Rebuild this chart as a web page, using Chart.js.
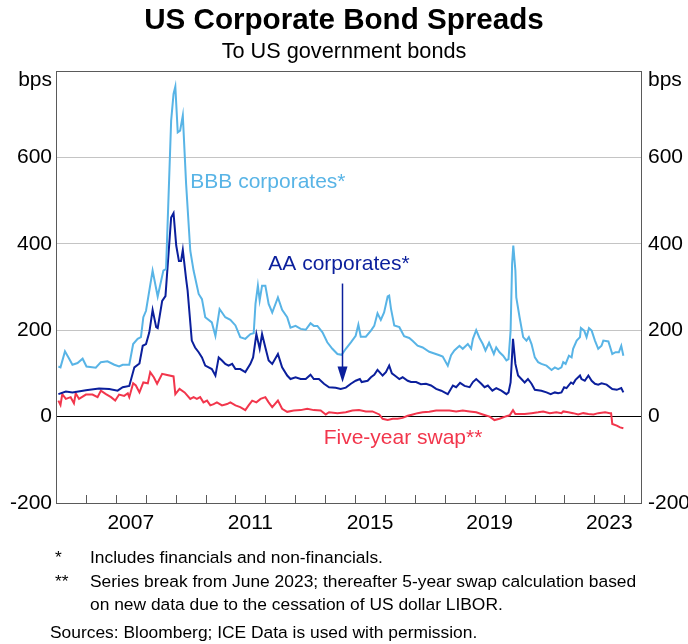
<!DOCTYPE html>
<html>
<head>
<meta charset="utf-8">
<script src="https://cdn.jsdelivr.net/npm/chart.js@4.4.1/dist/chart.umd.min.js"></script>
<style>
  body { margin: 0; background: #fff; font-family: "Liberation Sans", Arial, sans-serif; }
  #wrap { position: relative; width: 688px; height: 644px; }
  #bondChart { position: absolute; left: 0; top: 0; }
  .txt { position: absolute; white-space: nowrap; color: #000; line-height: 1; }
  .note { font-size: 17.4px; }
</style>
</head>
<body>
<div id="wrap">
  <canvas id="bondChart" width="688" height="644"></canvas>
  <div class="txt" style="left:0;width:688px;text-align:center;top:4px;font-size:29.6px;font-weight:bold">US Corporate Bond Spreads</div>
  <div class="txt" style="left:0;width:688px;text-align:center;top:40px;font-size:21.7px">To US government bonds</div>
  <div class="txt note" style="left:55px;top:549px">*</div>
  <div class="txt note" style="left:90px;top:549px">Includes financials and non-financials.</div>
  <div class="txt note" style="left:55px;top:573px">**</div>
  <div class="txt note" style="left:90px;top:573px">Series break from June 2023; thereafter 5-year swap calculation based</div>
  <div class="txt note" style="left:90px;top:596px">on new data due to the cessation of US dollar LIBOR.</div>
  <div class="txt note" style="left:50px;top:624px">Sources: Bloomberg; ICE Data is used with permission.</div>
</div>
<script>
// spreads to US government bonds, bps (dates as decimal years)
var bbbDates = [2005.08,2005.15,2005.30,2005.44,2005.55,2005.72,2005.89,2006.02,2006.33,2006.50,2006.72,2006.95,
  2007.11,2007.23,2007.45,2007.58,2007.73,2007.84,2007.92,2008.01,2008.23,2008.40,2008.59,2008.68,2008.85,2008.93,
  2008.99,2009.07,2009.15,2009.24,2009.35,2009.49,2009.60,2009.77,2009.88,2009.99,2010.21,2010.33,2010.47,2010.55,
  2010.66,2010.83,2011.00,2011.16,2011.33,2011.50,2011.61,2011.67,2011.75,2011.81,2011.89,2012.00,2012.11,2012.23,
  2012.42,2012.56,2012.73,2012.84,2013.01,2013.18,2013.35,2013.51,2013.62,2013.74,2013.91,2014.07,2014.24,2014.41,
  2014.55,2014.69,2014.86,2015.02,2015.11,2015.19,2015.36,2015.53,2015.64,2015.75,2015.86,2015.97,2016.09,2016.14,
  2016.20,2016.31,2016.48,2016.64,2016.81,2016.93,2017.09,2017.26,2017.48,2017.65,2017.82,2017.93,2018.10,2018.21,
  2018.32,2018.49,2018.60,2018.77,2018.88,2018.94,2019.05,2019.16,2019.27,2019.36,2019.48,2019.59,2019.64,2019.72,
  2019.83,2019.95,2020.06,2020.13,2020.20,2020.25,2020.29,2020.36,2020.39,2020.50,2020.62,2020.73,2020.81,2020.90,
  2021.01,2021.12,2021.23,2021.40,2021.57,2021.68,2021.79,2021.90,2021.96,2022.04,2022.15,2022.24,2022.29,2022.41,
  2022.52,2022.55,2022.66,2022.74,2022.82,2022.91,2023.02,2023.13,2023.24,2023.30,2023.47,2023.60,2023.71,2023.82,
  2023.90,2023.97];
var bbbSpread = [116,114,151,134,120,124,134,116,113,126,128,120,
  116,120,120,168,180,184,230,245,338,278,338,342,685,747,
  764,658,662,697,539,384,338,284,272,230,218,187,249,241,
  230,224,211,184,180,191,193,261,303,269,303,303,261,241,
  276,247,230,206,210,203,201,216,210,210,195,172,157,145,
  143,157,172,187,213,185,185,199,210,239,224,241,278,280,
  250,211,207,186,182,175,164,160,150,146,142,139,118,142,
  153,164,157,168,157,180,200,182,168,153,171,153,145,160,
  149,141,130,133,199,353,396,338,276,230,184,176,184,168,
  137,126,122,118,108,114,110,114,126,122,141,137,157,176,
  184,205,199,184,205,199,176,157,164,176,174,145,149,149,
  164,141];

var aaDates = [2005.08,2005.33,2005.55,2006.00,2006.44,2006.78,2007.06,2007.23,2007.45,2007.62,2007.79,2007.90,
  2008.01,2008.12,2008.23,2008.35,2008.40,2008.55,2008.66,2008.85,2008.93,2009.02,2009.11,2009.18,2009.24,2009.35,
  2009.40,2009.54,2009.65,2009.77,2009.88,2009.99,2010.21,2010.33,2010.44,2010.55,2010.66,2010.77,2010.89,2011.00,
  2011.16,2011.33,2011.50,2011.59,2011.70,2011.81,2011.89,2012.00,2012.11,2012.23,2012.42,2012.56,2012.73,2012.84,
  2013.01,2013.18,2013.35,2013.51,2013.62,2013.79,2013.96,2014.13,2014.35,2014.52,2014.69,2014.86,2015.02,2015.16,
  2015.22,2015.42,2015.53,2015.64,2015.75,2015.92,2016.03,2016.14,2016.23,2016.37,2016.48,2016.59,2016.76,2016.87,
  2017.04,2017.20,2017.37,2017.54,2017.71,2017.88,2018.10,2018.27,2018.38,2018.51,2018.66,2018.83,2018.94,2019.05,
  2019.22,2019.33,2019.44,2019.59,2019.72,2019.89,2020.06,2020.13,2020.20,2020.28,2020.36,2020.45,2020.56,2020.67,
  2020.78,2020.90,2021.01,2021.23,2021.40,2021.54,2021.68,2021.79,2021.90,2021.99,2022.07,2022.22,2022.29,2022.37,
  2022.52,2022.57,2022.68,2022.80,2022.91,2023.02,2023.13,2023.24,2023.41,2023.60,2023.75,2023.90,2023.97];
var aaSpread = [52,58,56,61,65,64,60,68,71,114,123,164,
  168,195,247,207,205,268,279,461,471,396,360,360,386,319,
  292,176,160,149,137,118,110,95,137,130,122,118,122,110,
  110,103,122,137,191,157,191,160,130,122,145,114,95,87,
  91,87,87,97,87,87,76,68,67,64,67,76,83,87,
  80,83,91,97,108,95,103,118,100,93,87,91,83,80,
  80,75,76,72,64,60,52,72,68,78,71,68,80,87,
  76,68,72,60,66,60,52,56,79,180,122,95,87,79,
  87,76,62,60,56,52,56,54,56,68,66,79,76,85,
  95,87,83,95,83,76,74,77,74,64,62,66,56];

var swapDates = [2005.08,2005.15,2005.21,2005.33,2005.49,2005.60,2005.66,2005.77,2006.00,2006.22,2006.39,2006.50,
  2006.67,2006.84,2006.98,2007.11,2007.28,2007.40,2007.45,2007.58,2007.67,2007.79,2007.92,2008.07,2008.15,2008.27,
  2008.38,2008.55,2008.68,2008.93,2008.99,2009.13,2009.30,2009.49,2009.60,2009.71,2009.82,2009.93,2010.05,2010.16,
  2010.27,2010.38,2010.55,2010.72,2010.83,2011.00,2011.16,2011.33,2011.44,2011.56,2011.70,2011.84,2012.00,2012.11,
  2012.23,2012.42,2012.56,2012.73,2012.95,2013.18,2013.40,2013.62,2013.85,2014.02,2014.13,2014.41,2014.69,2014.91,
  2015.13,2015.36,2015.58,2015.81,2015.92,2016.09,2016.26,2016.42,2016.59,2016.76,2016.93,2017.09,2017.26,2017.48,
  2017.71,2017.93,2018.15,2018.38,2018.60,2018.83,2019.05,2019.27,2019.50,2019.66,2019.83,2020.06,2020.17,2020.28,
  2020.36,2020.50,2020.67,2020.90,2021.12,2021.29,2021.51,2021.73,2021.90,2021.96,2022.13,2022.29,2022.46,2022.63,
  2022.80,2022.97,2023.13,2023.36,2023.52,2023.56,2023.60,2023.75,2023.86,2023.97];
var swapSpread = [37,27,52,41,45,31,54,41,51,51,45,60,
  52,45,37,51,48,54,45,77,72,56,79,77,103,91,
  76,99,97,93,52,64,56,41,45,41,45,33,37,26,
  29,33,26,29,33,26,22,15,26,37,33,41,45,33,
  22,37,18,11,14,15,18,15,14,5,10,8,10,14,
  15,12,12,5,-5,-8,-5,-5,-3,2,5,8,10,11,
  14,14,14,12,14,12,10,5,0,-8,-5,1,3,15,
  6,6,6,8,10,12,8,10,8,12,10,8,5,8,
  6,5,8,10,8,8,-17,-21,-25,-27];

var yearLabels = [2007, 2011, 2015, 2019, 2023];
var yTicks = [-200, 0, 200, 400, 600, 800];

var bbbColour = "#58b4e6";
var aaColour = "#0b1f9c";
var swapColour = "#f2364c";
var frameColour = "#5a5a5a";
var tickFont = { family: "'Liberation Sans', Arial, sans-serif", size: 21 };

function toPoints(dates, values) {
  return dates.map(function (d, i) { return { x: d, y: values[i] }; });
}

// in-chart labels and the arrow, placed in data units
var notes = [
  { text: "BBB corporates*", x: 2009.49, y: 542, colour: bbbColour },
  { text: "AA corporates*", x: 2012.1, y: 352, colour: aaColour },
  { text: "Five-year swap**", x: 2013.95, y: -51, colour: swapColour }
];

var extras = {
  id: "extras",
  afterDraw: function (chart) {
    var c = chart.ctx, xs = chart.scales.x, ys = chart.scales.y, area = chart.chartArea;
    c.save();
    // year tick marks inside the bottom of the plot
    c.strokeStyle = frameColour;
    c.lineWidth = 1;
    for (var yr = 2006; yr <= 2024; yr++) {
      var px = Math.round(xs.getPixelForValue(yr)) + 0.5;
      c.beginPath();
      c.moveTo(px, area.bottom);
      c.lineTo(px, area.bottom - 8);
      c.stroke();
    }
    // unit labels
    c.fillStyle = "#000";
    c.font = "21px 'Liberation Sans', Arial, sans-serif";
    c.textBaseline = "alphabetic";
    c.textAlign = "right";
    c.fillText("bps", area.left - 4, 86);
    c.textAlign = "left";
    c.fillText("bps", area.right + 7, 86);
    // series labels
    c.font = "21px 'Liberation Sans', Arial, sans-serif";
    c.textBaseline = "middle";
    notes.forEach(function (n) {
      c.fillStyle = n.colour;
      c.fillText(n.text, xs.getPixelForValue(n.x), ys.getPixelForValue(n.y));
    });
    // arrow from AA label to AA line
    var ax = Math.round(xs.getPixelForValue(2014.57)) + 0.5;
    var top = ys.getPixelForValue(308), tip = ys.getPixelForValue(79);
    c.strokeStyle = aaColour;
    c.fillStyle = aaColour;
    c.lineWidth = 1.5;
    c.beginPath();
    c.moveTo(ax, top);
    c.lineTo(ax, tip - 14);
    c.stroke();
    c.beginPath();
    c.moveTo(ax - 5, tip - 16);
    c.lineTo(ax + 5, tip - 16);
    c.lineTo(ax, tip);
    c.closePath();
    c.fill();
    c.restore();
  }
};

var ctx = document.getElementById("bondChart").getContext("2d");

var bondChart = new Chart(ctx, {
  type: "line",
  data: {
    datasets: [
      { label: "BBB corporates*", data: toPoints(bbbDates, bbbSpread), borderColor: bbbColour, yAxisID: "y" },
      { label: "AA corporates*", data: toPoints(aaDates, aaSpread), borderColor: aaColour, yAxisID: "y" },
      { label: "Five-year swap**", data: toPoints(swapDates, swapSpread), borderColor: swapColour, yAxisID: "y" }
    ]
  },
  options: {
    responsive: false,
    animation: false,
    parsing: false,
    normalized: true,
    layout: { padding: { top: 71, bottom: 101, left: 0, right: 0 } },
    elements: {
      point: { radius: 0 },
      line: { borderWidth: 2, tension: 0, fill: false }
    },
    plugins: {
      legend: { display: false },
      title: { display: false },
      tooltip: { enabled: false }
    },
    scales: {
      x: {
        type: "linear",
        min: 2005,
        max: 2024.56,
        afterBuildTicks: function (axis) {
          axis.ticks = yearLabels.map(function (y) { return { value: y + 0.5 }; });
        },
        afterFit: function (axis) { axis.height = 40; },
        ticks: {
          autoSkip: false,
          maxRotation: 0,
          padding: 8,
          color: "#000",
          font: tickFont,
          callback: function (v) { return String(Math.floor(v)); }
        },
        grid: { display: false, drawTicks: false },
        border: { display: true, color: frameColour, width: 1 }
      },
      y: {
        position: "left",
        min: -200,
        max: 800,
        afterBuildTicks: function (axis) {
          axis.ticks = yTicks.map(function (v) { return { value: v }; });
        },
        afterFit: function (axis) { axis.width = 56; },
        ticks: {
          padding: 4,
          color: "#000",
          font: tickFont,
          callback: function (v) { return v === 800 ? "" : String(v); }
        },
        grid: {
          drawTicks: false,
          lineWidth: 1,
          color: function (c) {
            var v = c.tick && c.tick.value;
            if (v === 0) return "#000";
            if (v === 800 || v === -200) return frameColour;
            return "#c4c4c4";
          }
        },
        border: { display: true, color: frameColour, width: 1 }
      },
      y2: {
        position: "right",
        min: -200,
        max: 800,
        afterBuildTicks: function (axis) {
          axis.ticks = yTicks.map(function (v) { return { value: v }; });
        },
        afterFit: function (axis) { axis.width = 47; },
        ticks: {
          padding: 7,
          color: "#000",
          font: tickFont,
          callback: function (v) { return v === 800 ? "" : String(v); }
        },
        grid: { drawOnChartArea: false, drawTicks: false },
        border: { display: true, color: frameColour, width: 1 }
      }
    }
  },
  plugins: [extras]
});
</script>
</body>
</html>
